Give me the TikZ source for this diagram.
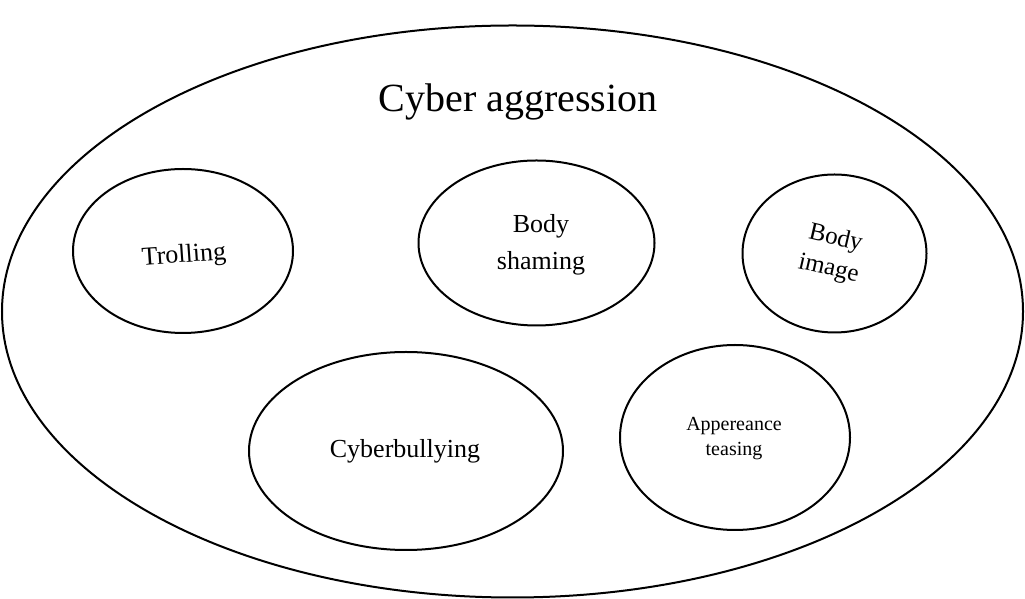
\documentclass[tikz,border=0pt]{standalone}
\usepackage{fontspec}
\setmainfont{Liberation Serif}
\usetikzlibrary{shapes.geometric}
\begin{document}
\begin{tikzpicture}[x=1pt,y=1pt,
  ring/.style={draw=black,line width=2pt},
  lbl/.style={align=center,font=\fontsize{26}{30}\selectfont,inner sep=0pt}]
\useasboundingbox (0,0) rectangle (1025,599);
% outer ellipse
\draw[ring] (512.5,287.5) ellipse [x radius=510.5, y radius=286];
\node[inner sep=0pt,font=\fontsize{40}{44}\selectfont] (title) at (518,497) {Cyber aggression};
% inner ellipses
\draw[ring] (183,348) ellipse [x radius=110, y radius=82];
\node[lbl,rotate=4] (troll) at (184,343) {Trolling};
\draw[ring] (536.5,356) ellipse [x radius=118, y radius=82.5];
\node[lbl,font=\fontsize{26}{37}\selectfont] (shame) at (541,354) {Body\\shaming};
\draw[ring] (834.5,345.5) ellipse [x radius=92, y radius=79];
\node[lbl,rotate=-13,font=\fontsize{25}{31}\selectfont] (image) at (832,345) {Body\\image};
\draw[ring] (406,148) ellipse [x radius=157, y radius=99];
\node[lbl] (bully) at (405,148) {Cyberbullying};
\draw[ring] (735,161.5) ellipse [x radius=115, y radius=92.5];
\node[lbl,font=\fontsize{20}{25}\selectfont] (tease) at (734,160) {Appereance\\teasing};
\end{tikzpicture}
\end{document}
